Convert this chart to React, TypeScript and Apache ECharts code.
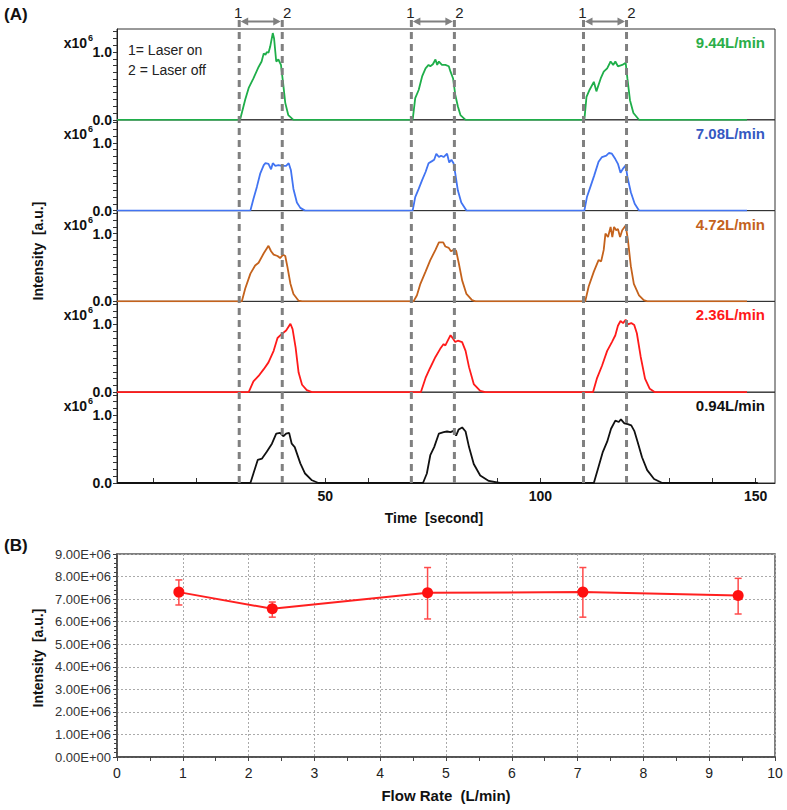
import React, { useEffect, useRef } from "react";
import * as echarts from "echarts";

// ---------- Panel A data ----------
const FLOW_LABELS = ["9.44L/min", "7.08L/min", "4.72L/min", "2.36L/min", "0.94L/min"];
const TRACE_COLORS = ["#1fae4a", "#4274f2", "#c4621c", "#ff1a1a", "#111111"];
const LABEL_COLORS = ["#2aae48", "#3559c2", "#c4621c", "#ff1a1a", "#111111"];
const LASER_ON = [30, 70, 110];
const LASER_OFF = [40, 80, 120];
const TIME_TICKS = [10, 20, 30, 40, 50, 60, 70, 80, 90, 100, 110, 120, 130, 140, 150];
const TIME_LABELS = [50, 100, 150];
const INTENSITY_TICKS = [0, 0.1, 0.2, 0.3, 0.4, 0.5, 0.6, 0.7, 0.8, 0.9, 1.0, 1.1, 1.2, 1.3];
const INTENSITY_LABELS = [0, 1];
const BASE_START = 1.6;
const BASE_END = [148, 148, 148, 148, 150.5];

const greenPulses = [
  [[30.2, 0], [31.4, 0.3], [32.2, 0.47], [33.3, 0.61], [34.5, 0.78], [35.2, 0.86], [35.7, 0.98], [36.1, 0.96], [36.4, 1.0], [36.8, 0.99], [37.2, 1.08], [37.8, 1.28], [38.1, 1.2], [38.6, 0.86], [39.1, 0.89], [39.7, 0.81], [40.2, 0.54], [40.7, 0.25], [41.4, 0.07], [42.6, 0]],
  [[70.3, 0], [70.9, 0.32], [71.7, 0.44], [72.5, 0.64], [73.3, 0.76], [74.0, 0.81], [74.4, 0.79], [75.0, 0.82], [75.6, 0.89], [76.0, 0.81], [76.4, 0.86], [77.1, 0.81], [77.9, 0.81], [78.7, 0.79], [79.1, 0.71], [79.7, 0.61], [80.2, 0.37], [80.8, 0.2], [81.4, 0.07], [82.6, 0]],
  [[110.2, 0], [110.7, 0.34], [111.4, 0.44], [112.4, 0.56], [113.0, 0.42], [114.0, 0.61], [114.7, 0.71], [115.5, 0.76], [116.3, 0.86], [116.9, 0.81], [117.4, 0.86], [118.0, 0.79], [119.0, 0.81], [119.8, 0.84], [120.2, 0.61], [120.8, 0.29], [121.6, 0.1], [122.9, 0]],
];
const bluePulses = [
  [[32.6, 0], [33.3, 0.17], [34.1, 0.35], [34.9, 0.55], [35.7, 0.67], [36.1, 0.7], [36.8, 0.69], [37.4, 0.61], [37.8, 0.7], [38.4, 0.66], [39.1, 0.67], [39.9, 0.66], [40.9, 0.66], [41.5, 0.7], [42.0, 0.6], [42.6, 0.32], [43.4, 0.12], [44.2, 0.04], [45.3, 0]],
  [[70.3, 0], [70.9, 0.2], [71.7, 0.32], [72.5, 0.45], [73.3, 0.57], [74.0, 0.7], [74.8, 0.73], [75.3, 0.75], [75.8, 0.84], [76.4, 0.79], [76.9, 0.81], [77.5, 0.79], [78.3, 0.84], [78.8, 0.71], [79.3, 0.75], [79.8, 0.7], [80.2, 0.55], [80.8, 0.3], [81.6, 0.12], [82.8, 0]],
  [[110.2, 0], [110.8, 0.2], [111.6, 0.35], [112.5, 0.52], [113.5, 0.72], [114.3, 0.79], [115.3, 0.81], [115.9, 0.85], [116.6, 0.84], [117.4, 0.76], [118.0, 0.69], [118.6, 0.56], [119.2, 0.62], [119.8, 0.67], [120.2, 0.5], [121.0, 0.27], [121.9, 0.1], [122.9, 0]],
];
const orangePulses = [
  [[30.6, 0], [31.4, 0.19], [32.6, 0.41], [33.7, 0.53], [34.5, 0.57], [35.7, 0.71], [36.8, 0.82], [37.4, 0.74], [38.0, 0.69], [38.9, 0.67], [39.5, 0.64], [40.2, 0.69], [40.7, 0.67], [41.2, 0.51], [41.9, 0.26], [42.6, 0.11], [43.8, 0.01], [44.6, 0]],
  [[70.5, 0], [71.3, 0.09], [72.1, 0.26], [73.3, 0.44], [74.4, 0.61], [75.6, 0.76], [76.4, 0.87], [77.4, 0.87], [77.9, 0.81], [78.7, 0.79], [79.2, 0.74], [79.8, 0.76], [80.4, 0.75], [81.0, 0.57], [81.8, 0.31], [82.8, 0.11], [84.1, 0.02], [84.9, 0]],
  [[110.4, 0], [111.2, 0.22], [112.4, 0.44], [113.5, 0.61], [114.1, 0.59], [114.7, 0.76], [115.1, 1.0], [115.7, 0.95], [116.3, 1.1], [116.7, 0.95], [117.1, 1.1], [117.6, 1.05], [118.0, 1.07], [118.5, 0.95], [119.0, 1.05], [119.8, 1.12], [120.3, 0.92], [121.0, 0.52], [121.7, 0.26], [122.9, 0.09], [124.0, 0.02], [124.8, 0]],
];
const redPulses = [
  [[32.2, 0], [33.3, 0.16], [34.5, 0.24], [35.7, 0.34], [36.8, 0.44], [38.0, 0.61], [38.9, 0.8], [39.9, 0.86], [40.9, 0.91], [41.9, 1.01], [42.4, 0.93], [43.1, 0.66], [43.8, 0.29], [44.6, 0.11], [45.7, 0.03], [46.9, 0]],
  [[72.2, 0], [73.3, 0.21], [74.3, 0.35], [75.6, 0.52], [76.7, 0.64], [77.5, 0.71], [77.9, 0.69], [78.6, 0.78], [79.1, 0.84], [79.7, 0.79], [80.2, 0.74], [80.8, 0.76], [81.8, 0.74], [82.6, 0.61], [83.4, 0.37], [84.5, 0.12], [86.0, 0.02], [87.2, 0]],
  [[112.2, 0], [113.1, 0.2], [114.3, 0.39], [115.5, 0.61], [116.6, 0.74], [117.4, 0.84], [118.0, 0.98], [118.6, 1.05], [119.2, 1.02], [119.8, 1.07], [120.3, 1.0], [121.1, 1.02], [121.8, 0.99], [122.4, 0.87], [123.3, 0.52], [124.3, 0.2], [125.4, 0.05], [126.6, 0]],
];
const blackPulses = [
  [[32.6, 0], [33.3, 0.14], [34.3, 0.34], [35.3, 0.36], [36.4, 0.46], [37.6, 0.58], [38.6, 0.73], [39.5, 0.74], [40.3, 0.69], [40.9, 0.73], [41.6, 0.74], [42.2, 0.58], [42.9, 0.53], [44.2, 0.29], [45.3, 0.14], [46.9, 0.04], [48.4, 0]],
  [[72.7, 0], [73.6, 0.14], [74.4, 0.41], [75.3, 0.53], [76.4, 0.73], [77.5, 0.75], [78.3, 0.76], [79.1, 0.75], [79.8, 0.77], [80.4, 0.7], [81.0, 0.79], [81.8, 0.82], [82.6, 0.76], [83.4, 0.53], [84.5, 0.28], [86.0, 0.11], [88.0, 0.03], [90.6, 0]],
  [[112.4, 0], [113.5, 0.24], [114.5, 0.46], [115.5, 0.61], [116.4, 0.8], [117.4, 0.92], [118.2, 0.9], [118.7, 0.94], [119.5, 0.88], [120.3, 0.87], [121.1, 0.85], [121.8, 0.77], [122.6, 0.6], [123.6, 0.38], [124.8, 0.19], [126.4, 0.06], [128.3, 0]],
];
const PANEL_PULSES = [greenPulses, bluePulses, orangePulses, redPulses, blackPulses];

// ---------- Panel B data ----------
const FLOW_RATES = [0.94, 2.36, 4.72, 7.08, 9.44];
const MEAN_INTENSITY = [7.31e6, 6.57e6, 7.28e6, 7.31e6, 7.16e6];
const ERR_LOW = [6.74e6, 6.2e6, 6.12e6, 6.2e6, 6.34e6];
const ERR_HIGH = [7.85e6, 6.87e6, 8.4e6, 8.4e6, 7.92e6];

const FONT = "'Liberation Sans', Arial, sans-serif";
const T_MIN = 1.6;
const T_MAX = 154.5;
const Y_MAX = 1.34;
const A_TOP = 29;
const A_H = 90.8;
const LEFT = 117;
const WIDTH = 658;

const fmtE = (v: number) => {
  if (v === 0) return "0.00E+00";
  const e = Math.floor(Math.log10(v) + 1e-9);
  const m = v / Math.pow(10, e);
  return m.toFixed(2) + "E+" + String(e).padStart(2, "0");
};

export default function App() {
  const ref = useRef<HTMLDivElement>(null);
  useEffect(() => {
    if (!ref.current) return;
    const chart = echarts.init(ref.current, undefined, { renderer: "svg" });

    const grids: any[] = [];
    const xAxes: any[] = [];
    const yAxes: any[] = [];
    const series: any[] = [];

    for (let i = 0; i < 5; i++) {
      grids.push({
        left: LEFT, width: WIDTH, top: A_TOP + i * A_H, height: A_H,
        show: true, borderColor: "#333", borderWidth: 1, backgroundColor: "transparent",
      });
      const isBottom = i === 4;
      xAxes.push({
        type: "value", gridIndex: i, min: T_MIN, max: T_MAX,
        splitLine: { show: false },
        axisLine: { show: isBottom, lineStyle: { color: "#222", width: 1 } },
        axisTick: { show: isBottom, inside: true, length: 5, customValues: TIME_TICKS, lineStyle: { color: "#333" } },
        axisLabel: {
          show: isBottom, customValues: TIME_LABELS, margin: 6,
          fontFamily: FONT, fontSize: 14, fontWeight: "bold", color: "#111",
        },
      });
      yAxes.push({
        type: "value", gridIndex: i, min: 0, max: Y_MAX,
        splitLine: { show: false },
        axisLine: { show: true, lineStyle: { color: "#222", width: 1 } },
        axisTick: { show: true, length: 4, customValues: INTENSITY_TICKS, lineStyle: { color: "#333" } },
        axisLabel: {
          customValues: INTENSITY_LABELS, margin: 5,
          formatter: (v: number) => v.toFixed(1),
          fontFamily: FONT, fontSize: 14, fontWeight: "bold", color: "#111",
        },
      });
      const data: number[][] = [[BASE_START, 0]];
      PANEL_PULSES[i].forEach((p) => p.forEach((pt) => data.push(pt)));
      data.push([BASE_END[i], 0]);
      series.push({
        type: "line", xAxisIndex: i, yAxisIndex: i, data, symbol: "none",
        lineStyle: { color: TRACE_COLORS[i], width: 1.8 }, z: 3,
      });
    }

    // Panel B
    grids.push({ left: LEFT, width: WIDTH, top: 554, height: 203, show: true, borderColor: "#555", borderWidth: 1.5 });
    xAxes.push({
      type: "value", gridIndex: 5, min: 0, max: 10, interval: 1,
      axisLine: { show: true, lineStyle: { color: "#444", width: 1.5 } },
      axisTick: { show: true, length: 4, lineStyle: { color: "#444" } },
      minorTick: { show: true, splitNumber: 2, length: 4, lineStyle: { color: "#444" } },
      splitLine: { show: true, lineStyle: { color: "#aaa", type: [2, 2], width: 1 } },
      axisLabel: { fontFamily: FONT, fontSize: 14, color: "#222", margin: 9 },
    });
    yAxes.push({
      type: "value", gridIndex: 5, min: 0, max: 9e6, interval: 1e6,
      axisLine: { show: true, lineStyle: { color: "#444", width: 1.5 } },
      axisTick: { show: true, length: 4, lineStyle: { color: "#444" } },
      minorTick: { show: true, splitNumber: 5, length: 3, lineStyle: { color: "#444" } },
      splitLine: { show: true, lineStyle: { color: "#aaa", type: [2, 2], width: 1 } },
      axisLabel: { fontFamily: FONT, fontSize: 13, color: "#333", margin: 6, formatter: fmtE },
    });
    series.push({
      type: "custom", xAxisIndex: 5, yAxisIndex: 5,
      data: FLOW_RATES.map((f, k) => [f, ERR_LOW[k], ERR_HIGH[k]]),
      encode: { x: 0, y: [1, 2] },
      renderItem: (params: any, api: any) => {
        const x = api.value(0);
        const lo = api.coord([x, api.value(1)]);
        const hi = api.coord([x, api.value(2)]);
        const w = 3.5;
        const st = { stroke: "#ff4a4a", lineWidth: 1.5 };
        return {
          type: "group",
          children: [
            { type: "line", shape: { x1: lo[0], y1: lo[1], x2: hi[0], y2: hi[1] }, style: st },
            { type: "line", shape: { x1: hi[0] - w, y1: hi[1], x2: hi[0] + w, y2: hi[1] }, style: st },
            { type: "line", shape: { x1: lo[0] - w, y1: lo[1], x2: lo[0] + w, y2: lo[1] }, style: st },
          ],
        };
      },
      z: 2,
    });
    series.push({
      type: "line", xAxisIndex: 5, yAxisIndex: 5,
      data: FLOW_RATES.map((f, k) => [f, MEAN_INTENSITY[k]]),
      symbol: "circle", symbolSize: 11,
      lineStyle: { color: "#ff2020", width: 2 },
      itemStyle: { color: "#ff1010" }, z: 4,
    });

    const txt = (text: string, x: number, y: number, o: any = {}) => ({
      type: "text", x, y, silent: true,
      style: {
        text, fontFamily: FONT, fontSize: o.size || 14, fontWeight: o.bold ? "bold" : "normal",
        fill: o.color || "#111", align: o.align || "left", verticalAlign: o.valign || "middle",
      },
      rotation: o.rotation || 0, z: 10,
    });

    chart.setOption({
      animation: false,
      backgroundColor: "#fff",
      grid: grids, xAxis: xAxes, yAxis: yAxes, series,
    });

    // Annotations built from the library's own scales
    const graphics: any[] = [];
    const yTop = 20;
    const yBottom = chart.convertToPixel({ yAxisIndex: 4 }, 0) as number;
    LASER_ON.forEach((tOn, k) => {
      const x1 = chart.convertToPixel({ xAxisIndex: 4 }, tOn) as number;
      const x2 = chart.convertToPixel({ xAxisIndex: 4 }, LASER_OFF[k]) as number;
      [x1, x2].forEach((x) => {
        graphics.push({
          type: "line", shape: { x1: x, y1: yTop, x2: x, y2: yBottom }, silent: true, z: 8,
          style: { stroke: "#808080", lineWidth: 3, lineDash: [7, 5] },
        });
      });
      const ay = 21.5;
      graphics.push({
        type: "line", shape: { x1: x1 + 4, y1: ay, x2: x2 - 4, y2: ay }, silent: true, z: 8,
        style: { stroke: "#808080", lineWidth: 2 },
      });
      graphics.push({
        type: "polygon", shape: { points: [[x1 + 1.5, ay], [x1 + 9, ay - 4], [x1 + 9, ay + 4]] }, silent: true, z: 8,
        style: { fill: "#808080" },
      });
      graphics.push({
        type: "polygon", shape: { points: [[x2 - 1.5, ay], [x2 - 9, ay - 4], [x2 - 9, ay + 4]] }, silent: true, z: 8,
        style: { fill: "#808080" },
      });
      graphics.push(txt("1", x1 - 1, 12, { size: 15, align: "center", color: "#222" }));
      graphics.push(txt("2", x2 + 5, 12, { size: 15, align: "center", color: "#222" }));
    });

    for (let i = 0; i < 5; i++) {
      const y1 = chart.convertToPixel({ yAxisIndex: i }, 1) as number;
      graphics.push(txt("x10", 87, y1 - 9, { bold: true, align: "right" }));
      graphics.push(txt("6", 88, y1 - 14, { bold: true, size: 9 }));
      graphics.push(txt(FLOW_LABELS[i], 765, A_TOP + i * A_H + 13.5, { bold: true, size: 15, align: "right", color: LABEL_COLORS[i] }));
    }

    graphics.push(txt("(A)", 4, 14, { bold: true, size: 17 }));
    graphics.push(txt("(B)", 4, 545, { bold: true, size: 17 }));
    graphics.push(txt("1= Laser on", 128, 50, { size: 14, color: "#222" }));
    graphics.push(txt("2 = Laser off", 128, 70, { size: 14, color: "#222" }));
    graphics.push(txt("Time  [second]", 434, 518, { bold: true, size: 14, align: "center" }));
    graphics.push(txt("Intensity  [a.u.]", 38, 251, { bold: true, size: 14, align: "center", rotation: Math.PI / 2 }));
    graphics.push(txt("Intensity  [a.u.]", 38, 658, { bold: true, size: 14, align: "center", rotation: Math.PI / 2 }));
    graphics.push(txt("Flow Rate  (L/min)", 446, 795, { bold: true, size: 15, align: "center" }));

    chart.setOption({ graphic: graphics });

    return () => chart.dispose();
  }, []);

  return <div ref={ref} style={{ position: "fixed", left: 0, top: 0, width: 787, height: 810, background: "#fff" }} />;
}
